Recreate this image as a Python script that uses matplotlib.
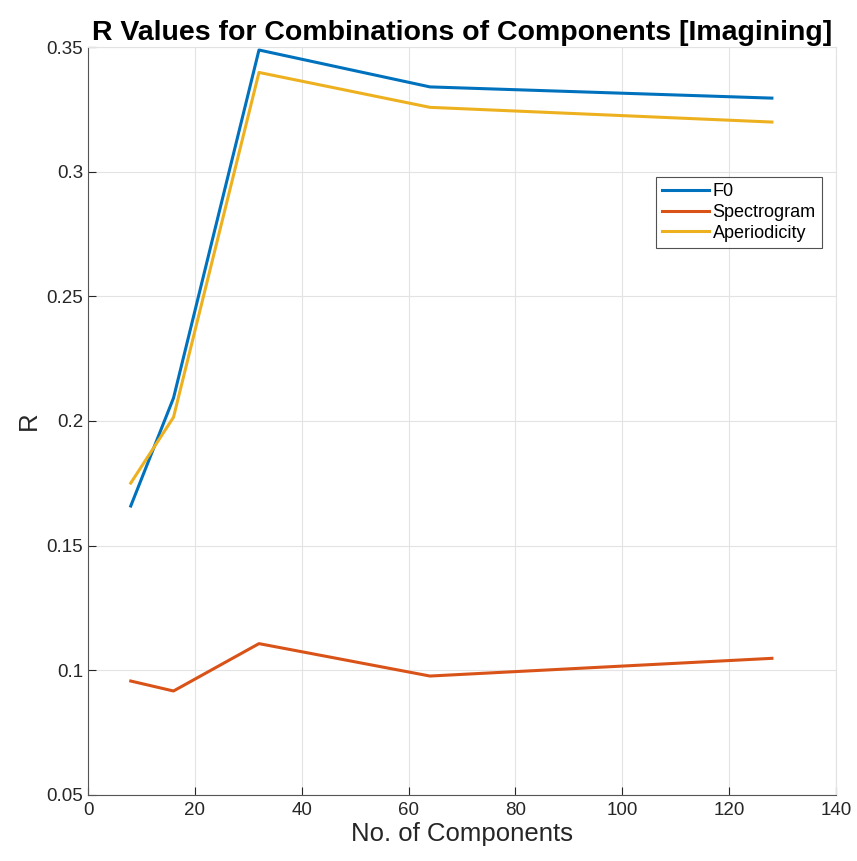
import matplotlib.pyplot as plt

plt.rcParams["font.family"] = ["Liberation Sans", "DejaVu Sans"]

n_components = [8, 16, 32, 64, 128]
r_f0 = [0.1659, 0.2092, 0.3488, 0.3340, 0.3295]
r_spectrogram = [0.0957, 0.0917, 0.1107, 0.0977, 0.1048]
r_aperiodicity = [0.1751, 0.2015, 0.3398, 0.3258, 0.3199]

xticks = [0, 20, 40, 60, 80, 100, 120, 140]
yticks = [0.05, 0.1, 0.15, 0.2, 0.25, 0.3, 0.35]
ytick_labels = ["0.05", "0.1", "0.15", "0.2", "0.25", "0.3", "0.35"]

fig = plt.figure(figsize=(8.57, 8.61), dpi=100)
ax = fig.add_axes([0.1027, 0.0767, 0.8728, 0.8687])

ax.plot(n_components, r_f0, color="#0072BD", lw=2.2, label="F0")
ax.plot(n_components, r_spectrogram, color="#D95319", lw=2.2, label="Spectrogram")
ax.plot(n_components, r_aperiodicity, color="#EDB120", lw=2.2, label="Aperiodicity")

ax.set_xlim(0, 140)
ax.set_ylim(0.05, 0.35)
ax.set_xticks(xticks)
ax.set_yticks(yticks)
ax.set_yticklabels(ytick_labels)
ax.tick_params(direction="in", length=6, width=0.8, labelsize=13.5, colors="#262626")
ax.tick_params(axis="x", pad=5)
ax.grid(color="#e3e3e3", lw=0.8)
ax.set_axisbelow(True)
for side in ["top", "right"]:
    ax.spines[side].set_color("#e3e3e3")
for side in ["left", "bottom"]:
    ax.spines[side].set_color("#555555")

ax.set_xlabel("No. of Components", fontsize=18.5, color="#262626", labelpad=2)
ax.set_ylabel("R", fontsize=18.5, color="#262626")
ax.set_title("R Values for Combinations of Components [Imagining]",
             fontsize=20.5, fontweight="bold", pad=5)

leg = ax.legend(loc="upper left", bbox_to_anchor=(0.759, 0.826), fontsize=13,
                frameon=True, fancybox=False, edgecolor="#262626",
                borderaxespad=0, handlelength=2.6, handletextpad=0.2,
                labelspacing=0.2, borderpad=0.35)
leg.get_frame().set_linewidth(0.8)

fig.savefig("out.png", dpi=100)
